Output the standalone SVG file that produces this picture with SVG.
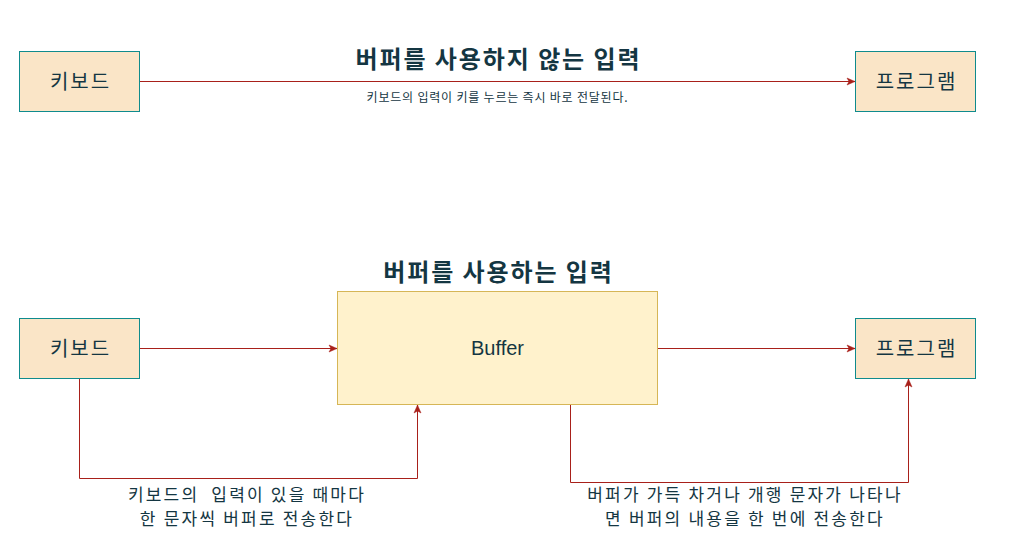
<svg xmlns="http://www.w3.org/2000/svg" width="1017" height="553" viewBox="0 0 1017 553">
<style>
.box{fill:#FAE5C7;stroke:#0F8B8D;stroke-width:1}
.buf{fill:#FFF2CC;stroke:#D6B656;stroke-width:1}
.lbl{font-family:"Noto Sans CJK KR","Noto Sans",sans-serif;fill:#143642;text-anchor:middle}
.node{font-size:20px;letter-spacing:2px}
.title{font-size:24px;font-weight:bold;letter-spacing:1.9px}
.sub{font-size:12px;letter-spacing:0.8px}
.note{font-size:17px;letter-spacing:2.2px}
.edge{fill:none;stroke:#A8201A;stroke-width:1}
</style>
<defs>
<marker id="arr" markerUnits="userSpaceOnUse" markerWidth="10" markerHeight="10" viewBox="0 0 10 10" refX="9" refY="5" orient="auto">
<path d="M1,1.5 L9,5 L1,8.5 L3,5 Z" fill="#A8201A" stroke="#A8201A" stroke-width="0.5"/>
</marker>
</defs>
<rect width="1017" height="553" fill="#ffffff"/>
<g id="edges">
<path class="edge" d="M139.5,81.5 L855,81.5" marker-end="url(#arr)"/>
<path class="edge" d="M139.5,348.5 L337,348.5" marker-end="url(#arr)"/>
<path class="edge" d="M657.5,348.5 L855,348.5" marker-end="url(#arr)"/>
<path class="edge" d="M79.5,378.5 L79.5,478.5 L417.5,478.5 L417.5,405" marker-end="url(#arr)"/>
<path class="edge" d="M570.5,404.5 L570.5,482.5 L908.5,482.5 L908.5,379" marker-end="url(#arr)"/>
</g>
<g id="title1">
<text class="lbl title" x="498.5" y="67.5">버퍼를 사용하지 않는 입력</text>
<text class="lbl sub" x="497.5" y="102">키보드의 입력이 키를 누르는 즉시 바로 전달된다.</text>
</g>
<g id="keyboard1">
<rect class="box" x="19.5" y="51.5" width="120" height="60"/>
<text class="lbl node" x="80.5" y="88.5">키보드</text>
</g>
<g id="program1">
<rect class="box" x="855.5" y="51.5" width="120" height="60"/>
<text class="lbl node" x="916.5" y="88.5">프로그램</text>
</g>
<g id="title2">
<text class="lbl title" x="498.5" y="281">버퍼를 사용하는 입력</text>
</g>
<g id="keyboard2">
<rect class="box" x="19.5" y="318.5" width="120" height="60"/>
<text class="lbl node" x="80.5" y="355.5">키보드</text>
</g>
<g id="buffer">
<rect class="buf" x="337.5" y="291.5" width="320" height="113"/>
<text x="497.5" y="355" text-anchor="middle" font-family="Liberation Sans, Arial, sans-serif" font-size="20" fill="#143642">Buffer</text>
</g>
<g id="program2">
<rect class="box" x="855.5" y="318.5" width="120" height="60"/>
<text class="lbl node" x="916.5" y="355.5">프로그램</text>
</g>
<g id="note1">
<text class="lbl note" x="247" y="501" xml:space="preserve">키보드의  입력이 있을 때마다</text>
<text class="lbl note" x="247" y="525">한 문자씩 버퍼로 전송한다</text>
</g>
<g id="note2">
<text class="lbl note" x="745" y="500.5">버퍼가 가득 차거나 개행 문자가 나타나</text>
<text class="lbl note" x="745" y="524.5">면 버퍼의 내용을 한 번에 전송한다</text>
</g>
</svg>
